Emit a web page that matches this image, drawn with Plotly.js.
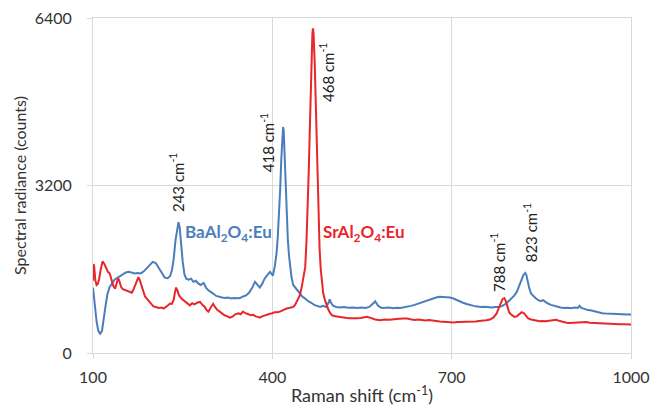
<!DOCTYPE html>
<html>
<head>
<meta charset="utf-8">
<script src="https://cdn.plot.ly/plotly-3.0.1.min.js"></script>
<style>html,body{margin:0;padding:0;background:#fff;}#chart{width:654px;height:407px;}</style>
</head>
<body>
<div id="chart"></div>
<script>
// BaAl2O4:Eu spectrum (blue)
const baShift = [100,103,106,109,112,115,118,121,124,128,132,136,140,145,150,155,160,165,170,175,180,185,190,195,200,205,210,215,220,225,229,232,235,238,241,243,245,247,250,253,256,260,264,268,272,276,280,285,289,293,297,301,306,311,316,321,326,331,336,341,346,351,356,361,366,371,375,379,383,387,391,394,396,398,401,404,407,409,411,413,415,417,418,419,420,422,424,426,428,430,432,435,438,441,444,447,450,455,460,465,470,475,480,485,490,494,496,498,502,507,513,520,527,535,542,549,556,562,567,570,572,574,577,581,585,590,596,602,608,614,620,626,632,638,644,650,656,662,668,674,680,686,692,697,703,708,713,719,725,731,737,743,749,755,761,767,773,779,785,791,796,801,805,809,813,817,820,823,825,827,830,833,837,841,845,849,853,857,861,866,871,876,882,888,894,900,906,911,914,917,922,928,934,940,946,952,958,964,970,976,982,988,994,1000];
const baCounts = [1250,900,600,420,370,420,620,900,1120,1260,1330,1400,1430,1470,1500,1540,1550,1540,1520,1530,1520,1560,1620,1680,1740,1720,1620,1520,1440,1430,1470,1580,1800,2150,2430,2500,2400,2100,1750,1500,1420,1400,1420,1360,1380,1330,1300,1340,1250,1200,1160,1135,1090,1070,1060,1050,1060,1040,1050,1045,1050,1080,1100,1150,1240,1360,1300,1250,1320,1420,1480,1520,1550,1520,1480,1650,1900,2200,2600,3100,3700,4200,4318,4250,3900,3200,2600,2150,1850,1600,1450,1300,1260,1220,1160,1130,1080,1040,990,960,920,900,880,900,880,960,1025,960,900,880,870,880,865,870,860,870,860,880,920,960,990,960,900,870,860,865,870,855,865,860,870,890,900,920,945,970,990,1010,1040,1060,1075,1070,1065,1060,1040,1010,980,960,935,915,900,890,880,885,875,870,880,880,900,945,1000,1060,1100,1170,1270,1400,1490,1530,1490,1380,1230,1135,1080,1040,1010,990,1010,970,945,920,900,880,870,860,865,855,870,860,900,860,840,820,810,790,775,760,755,750,745,745,740,740,735,735];

// SrAl2O4:Eu spectrum (red)
const srShift = [100,101,102,104,106,108,110,113,116,119,122,125,128,131,134,137,140,142,144,147,150,155,160,165,168,171,174,176,178,181,184,187,190,194,198,201,205,210,215,218,222,226,229,232,235,237,239,241,244,248,252,256,259,262,266,270,274,279,283,287,290,293,297,301,304,308,312,316,320,325,329,334,338,343,347,351,355,360,364,368,372,376,379,383,387,391,396,400,404,408,413,418,421,424,428,432,435,438,441,443,446,449,452,455,457,459,461,463,465,467,468,469,471,473,475,477,479,481,483,485,488,491,494,497,500,505,510,515,520,525,530,536,542,548,553,558,562,566,572,580,588,596,604,612,620,625,631,638,644,650,656,662,668,674,680,686,692,698,704,710,716,722,728,734,740,746,752,758,764,770,775,779,782,785,788,790,793,796,799,802,805,809,813,817,821,825,828,833,838,843,847,852,857,863,869,875,881,887,892,897,903,909,915,920,925,931,937,943,948,953,960,967,974,981,988,994,1000];
const srCounts = [1380,1700,1650,1380,1300,1320,1400,1600,1750,1700,1620,1550,1520,1420,1280,1230,1330,1430,1380,1260,1220,1200,1180,1150,1220,1320,1420,1450,1400,1280,1150,1080,1040,990,930,890,880,860,870,850,880,920,945,940,1020,1150,1250,1200,1100,1040,1000,960,930,910,950,930,960,975,920,880,820,790,870,940,880,820,790,760,720,700,675,700,740,760,740,790,760,740,720,730,700,690,675,700,720,740,750,760,780,780,790,820,840,850,860,870,880,920,990,1050,1100,1250,1450,1640,2100,2700,3500,4400,5400,6100,6200,6100,5500,4500,3400,2600,2000,1600,1350,1150,1010,910,820,760,720,700,690,680,675,670,665,660,665,670,680,690,680,660,640,625,640,635,650,655,660,660,645,630,640,625,620,630,615,610,600,595,590,590,585,590,590,592,590,595,600,610,615,625,640,680,750,850,950,1030,1050,1010,900,780,740,710,690,700,740,780,760,700,660,640,625,610,605,610,605,615,625,635,610,590,580,575,580,585,590,590,590,580,575,570,565,560,560,555,555,550,548,546,545];

const xTicks = [100, 400, 700, 1000];
const yTicks = [0, 3200, 6400];

const peakLabels = ['243 cm<sup>-1</sup>', '418 cm<sup>-1</sup>', '468 cm<sup>-1</sup>', '788 cm<sup>-1</sup>', '823 cm<sup>-1</sup>'];
const peakLabelX = [240, 391, 491, 777, 831];
const peakLabelY = [3260, 4025, 5363, 1733, 2306];

const seriesNames = ['BaAl<sub>2</sub>O<sub>4</sub>:Eu', 'SrAl<sub>2</sub>O<sub>4</sub>:Eu'];
const seriesLabelX = [326, 553];
const seriesLabelY = [2290, 2290];

const FONT = 'Lato, "Open Sans", sans-serif';
const BLUE = '#4A7EBB';
const RED = '#E8262B';

const traces = [
  {x: baShift, y: baCounts, type: 'scatter', mode: 'lines', line: {color: BLUE, width: 2}, name: 'BaAl2O4:Eu'},
  {x: srShift, y: srCounts, type: 'scatter', mode: 'lines', line: {color: RED, width: 2}, name: 'SrAl2O4:Eu'}
];

const annotations = [];
for (let i = 0; i < peakLabels.length; i++) {
  annotations.push({x: peakLabelX[i], y: peakLabelY[i], xref: 'x', yref: 'y', text: peakLabels[i], showarrow: false, textangle: -90, font: {family: FONT, size: 15, color: '#222'}});
}
const colors = [BLUE, RED];
for (let i = 0; i < seriesNames.length; i++) {
  annotations.push({x: seriesLabelX[i], y: seriesLabelY[i], xref: 'x', yref: 'y', text: '<b>' + seriesNames[i] + '</b>', showarrow: false, font: {family: FONT, size: 17, color: colors[i]}});
}

const layout = {
  width: 654, height: 407,
  margin: {l: 93, r: 23, t: 18, b: 54},
  paper_bgcolor: '#fff', plot_bgcolor: '#fff',
  showlegend: false,
  font: {family: FONT, size: 15, color: '#333'},
  xaxis: {
    range: [100, 1000], tickvals: xTicks, ticktext: xTicks.map(String),
    showgrid: true, gridcolor: '#d9d9d9', gridwidth: 1,
    showline: true, linecolor: '#d9d9d9', mirror: true, zeroline: false,
    ticks: 'outside', ticklen: 5, tickcolor: '#d9d9d9',
    ticklabelstandoff: 5,
    tickfont: {family: FONT, size: 16, color: '#333'},
    title: {text: 'Raman shift (cm<sup>-1</sup>)', font: {family: FONT, size: 18, color: '#333'}, standoff: 4}
  },
  yaxis: {
    range: [0, 6400], tickvals: yTicks, ticktext: yTicks.map(String),
    showgrid: true, gridcolor: '#d9d9d9', gridwidth: 1,
    showline: true, linecolor: '#d9d9d9', mirror: true, zeroline: false,
    ticks: 'outside', ticklen: 5, tickcolor: '#d9d9d9',
    ticklabelstandoff: 12,
    tickfont: {family: FONT, size: 16, color: '#333'},
    title: {text: 'Spectral radiance (counts)', font: {family: FONT, size: 16, color: '#333'}, standoff: 4}
  },
  annotations: annotations
};

Plotly.newPlot('chart', traces, layout, {displayModeBar: false, staticPlot: true});
</script>
</body>
</html>
